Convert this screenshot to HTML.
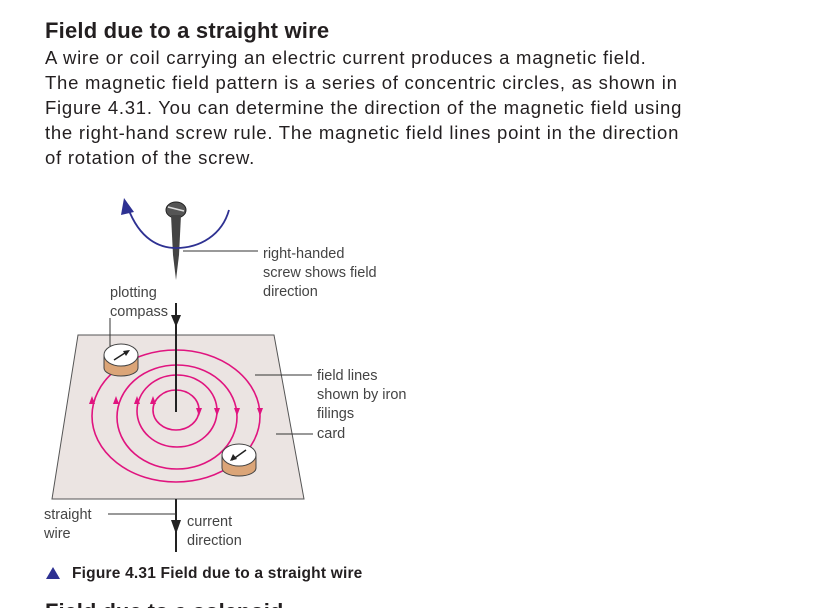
<!DOCTYPE html>
<html><head><meta charset="utf-8"><style>
html,body{margin:0;padding:0;background:#fff;width:819px;height:608px;overflow:hidden;position:relative;font-family:"Liberation Sans",sans-serif}
.t{position:absolute;left:45px;white-space:nowrap;color:#231f20}
</style></head><body>
<div class="t" style="top:18px;font-size:22px;font-weight:bold;letter-spacing:0.2px">Field due to a straight wire</div>
<div class="t" style="top:45px;font-size:18.5px;line-height:25px;letter-spacing:0.75px">A wire or coil carrying an electric current produces a magnetic field.<br>The magnetic field pattern is a series of concentric circles, as shown in<br>Figure 4.31. You can determine the direction of the magnetic field using<br>the right-hand screw rule. The magnetic field lines point in the direction<br>of rotation of the screw.</div>
<svg width="819" height="608" style="position:absolute;left:0;top:0" font-family="Liberation Sans, sans-serif">
<polygon points="78,335 274,335 304,499 52,499" fill="#ebe4e2" stroke="#555" stroke-width="1"/>
<g fill="none" stroke="#e0147f" stroke-width="1.6">
<ellipse cx="176" cy="410" rx="23" ry="20"/>
<ellipse cx="177" cy="411" rx="40" ry="36"/>
<ellipse cx="177" cy="417" rx="60" ry="52"/>
<ellipse cx="176" cy="416" rx="84" ry="66"/>
</g>
<g fill="#e0147f">
<polygon points="150,404 156,404 153,396"/><polygon points="134,404 140,404 137,396"/><polygon points="113,404 119,404 116,396"/><polygon points="89,404 95,404 92,396"/>
<polygon points="196,408 202,408 199,416"/><polygon points="214,408 220,408 217,416"/><polygon points="234,408 240,408 237,416"/><polygon points="257,408 263,408 260,416"/>
</g>
<g>
<path d="M104,355 L104,368 A17,8 0 0 0 138,368 L138,355 Z" fill="#dba578" stroke="#444"/>
<ellipse cx="121" cy="355" rx="17" ry="11" fill="#fff" stroke="#444"/>
<line x1="114" y1="360" x2="128" y2="351" stroke="#222" stroke-width="1.5"/><polygon points="130,350 123,351 126,356" fill="#222"/>
</g>
<g>
<path d="M222,455 L222,468 A17,8 0 0 0 256,468 L256,455 Z" fill="#dba578" stroke="#444"/>
<ellipse cx="239" cy="455" rx="17" ry="11" fill="#fff" stroke="#444"/>
<line x1="246" y1="450" x2="232" y2="460" stroke="#222" stroke-width="1.5"/><polygon points="230,461 233,454 237,459" fill="#222"/>
</g>
<line x1="176" y1="303" x2="176" y2="412" stroke="#222" stroke-width="2"/>
<polygon points="171,315 181,315 176,327" fill="#222"/>
<line x1="176" y1="499" x2="176" y2="552" stroke="#222" stroke-width="2"/>
<polygon points="171,520 181,520 176,534" fill="#222"/>
<g>
<ellipse cx="176" cy="210" rx="10" ry="8" fill="#555" stroke="#222"/>
<line x1="168" y1="207" x2="184" y2="211" stroke="#ddd" stroke-width="1.5"/>
<polygon points="171,215 181,215 179,255 176,280 173,255" fill="#444"/>
</g>
<path d="M128,208 C140,240 160,248 176,248 C200,248 222,235 229,210" fill="none" stroke="#2e3192" stroke-width="1.8"/>
<polygon points="124,198 134,212 121,215" fill="#2e3192"/>
<g stroke="#333" stroke-width="1">
<line x1="183" y1="251" x2="258" y2="251"/><line x1="110" y1="318" x2="110" y2="346"/>
<line x1="255" y1="375" x2="312" y2="375"/><line x1="276" y1="434" x2="313" y2="434"/>
<line x1="108" y1="514" x2="176" y2="514"/>
</g>
<g font-size="14.5" fill="#444">
<text x="263" y="258">right-handed</text>
<text x="263" y="277">screw shows field</text><text x="263" y="296">direction</text>
<text x="110" y="297">plotting</text><text x="110" y="316">compass</text>
<text x="317" y="380">field lines</text><text x="317" y="399">shown by iron</text><text x="317" y="418">filings</text>
<text x="317" y="438">card</text>
<text x="44" y="519">straight</text><text x="44" y="538">wire</text>
<text x="187" y="526">current</text><text x="187" y="545">direction</text>
</g>
<polygon points="46,579 60,579 53,567" fill="#2e3192"/>
<text x="72" y="578" font-size="15.5" font-weight="bold" fill="#231f20" letter-spacing="0.2">Figure 4.31 Field due to a straight wire</text>
<text x="45" y="619" font-size="22" font-weight="bold" fill="#231f20">Field due to a solenoid</text>
</svg>
</body></html>
